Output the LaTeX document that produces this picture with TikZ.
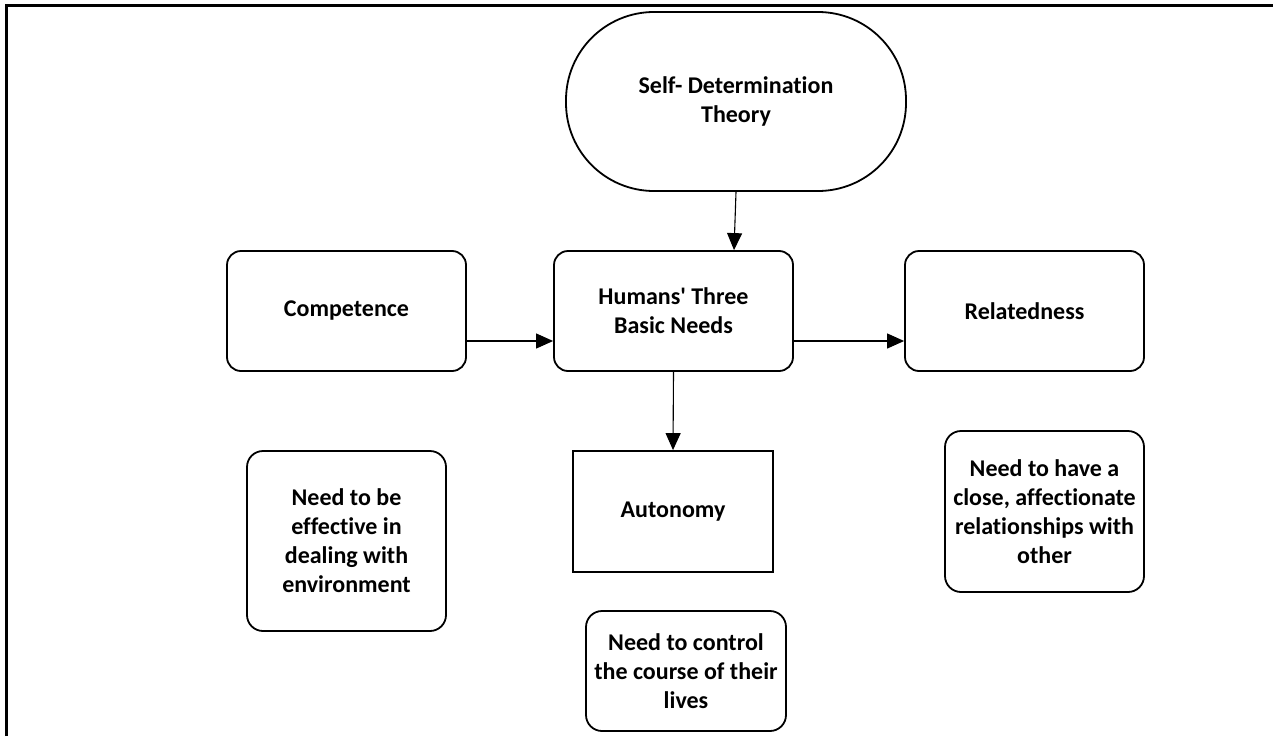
\documentclass[tikz,border=0pt]{standalone}
\usepackage{fontspec}
\setmainfont{Carlito}[Ligatures=NoCommon]
\usetikzlibrary{arrows.meta}

\begin{document}
\begin{tikzpicture}[x=1pt,y=-1pt,
  txt/.style={align=center,font=\fontsize{24}{29}\selectfont\bfseries},
  box/.style={txt,draw,line width=1.8pt,rounded corners=14pt,minimum width=239pt,minimum height=120pt},
  note/.style={box,minimum width=199pt,rounded corners=16pt},
  arr/.style={line width=1.1pt,-{Triangle[length=17pt,width=15pt]}}]
  \useasboundingbox (0,0) rectangle (1273,736);
  % open frame, left and top only
  \draw[line width=2.6pt] (6.5,736) -- (6.5,5.5) -- (1273,5.5);

  \node[box,minimum width=340pt,minimum height=179pt,rounded corners=88pt] (sdt) at (736,101.5) {Self- Determination\\Theory};
  \node[box] (hum) at (673.5,311) {Humans\textquotesingle\ Three\\Basic Needs};
  \node[box] (comp) at (346.5,311) {Competence};
  \node[box] (rel) at (1024.5,311) {Relatedness};
  \node[box,rounded corners=0pt,minimum width=200pt,minimum height=121pt] (aut) at (673,511.5) {Autonomy};

  \node[note,minimum height=180pt] (compnote) at (346.5,541) {Need to be\\effective in\\dealing with\\environment};
  \node[note,minimum width=200pt] (autnote) at (686,671) {Need to control\\the course of their\\lives};
  \node[note,minimum height=161pt] (relnote) at (1044.5,511.5) {Need to have a\\close, affectionate\\relationships with\\other};

  \draw[arr] (sdt.south) -- ([xshift=-2pt]sdt.south |- hum.north);
  \draw[arr] ([yshift=-30pt]comp.east) -- ([yshift=-30pt]hum.west);
  \draw[arr] ([yshift=-30pt]hum.east) -- ([yshift=-30pt]rel.west);
  \draw[arr] (hum.south) -- (aut.north);
\end{tikzpicture}
\end{document}
